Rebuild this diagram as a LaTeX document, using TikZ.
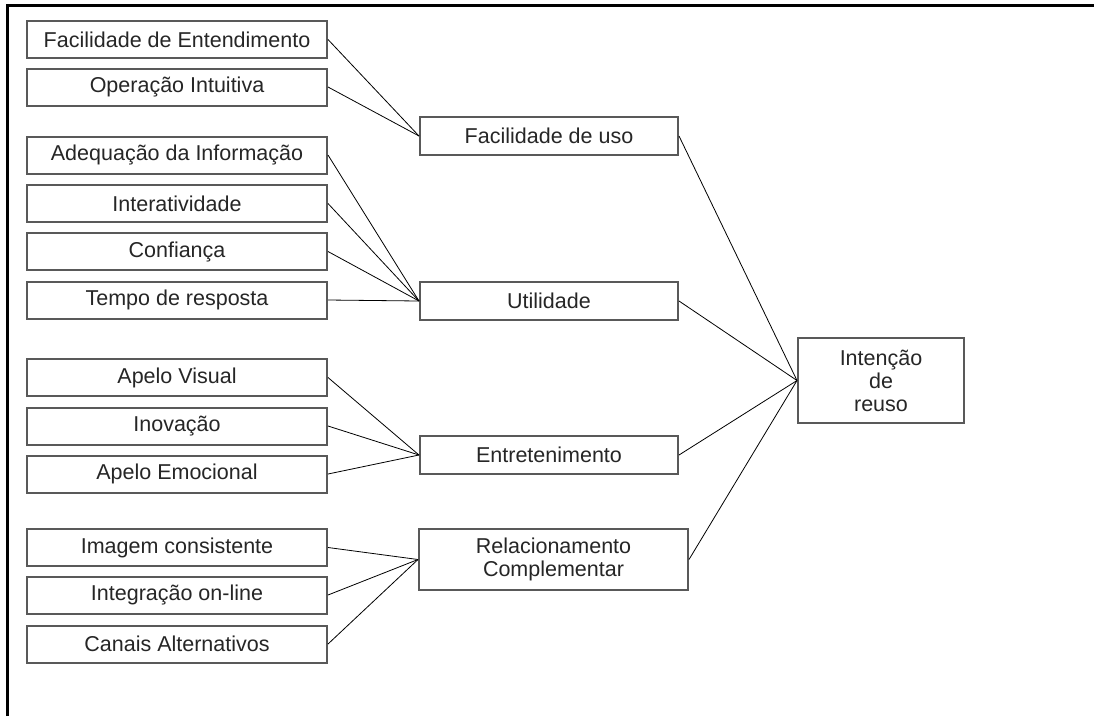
\documentclass[tikz,border=0pt]{standalone}
\usepackage{fontspec}
\setmainfont{Liberation Sans}
\usepackage{xcolor}
\usepackage{tikz}
\usetikzlibrary{positioning,calc}

\begin{document}
\begin{tikzpicture}[
    x=1pt, y=-1pt,
    item/.style={draw=black!65, line width=2pt, fill=white, text=black!85, minimum width=300pt, minimum height=37pt, inner sep=0pt, align=center, font=\fontsize{21.5}{23}\selectfont},
    factor/.style={item, minimum width=258pt, minimum height=38pt},
    goal/.style={item, minimum width=166pt, minimum height=85pt},
    link/.style={draw=black, line width=0.8pt}
]
\useasboundingbox (0,0) rectangle (1094,716);
% moldura
\draw[line width=3pt] (7,716) -- (7,5) -- (1094,5);

% itens da esquerda
\node[item] (fe) at (177,39.5) {Facilidade de Entendimento};
\node[item] (oi) at (177,87) {Operação Intuitiva};
\node[item] (ai) at (177,155) {Adequação da Informação};
\node[item] (it) at (177,203.5) {Interatividade};
\node[item] (cf) at (177,251.5) {Confiança};
\node[item] (tr) at (177,300) {Tempo de resposta};
\node[item] (av) at (177,377.5) {Apelo Visual};
\node[item] (inov) at (177,426) {Inovação};
\node[item] (ae) at (177,474) {Apelo Emocional};
\node[item] (ic) at (177,547.5) {Imagem consistente};
\node[item] (io) at (177,595) {Integração on-line};
\node[item] (ca) at (177,644) {Canais Alternativos};

% fatores
\node[factor] (fu) at (549,136) {Facilidade de uso};
\node[factor] (ut) at (549,301) {Utilidade};
\node[factor] (et) at (549,455) {Entretenimento};
\node[factor, minimum width=269pt, minimum height=61pt] (rc) at (553.5,559.5) {Relacionamento\\Complementar};

% intencao
\node[goal] (ir) at (881,380.5) {Intenção\\de\\reuso};

% ligacoes
\draw[link] (fe.east) -- (fu.west);
\draw[link] (oi.east) -- (fu.west);
\draw[link] (ai.east) -- (ut.west);
\draw[link] (it.east) -- (ut.west);
\draw[link] (cf.east) -- (ut.west);
\draw[link] (tr.east) -- (ut.west);
\draw[link] (av.east) -- (et.west);
\draw[link] (inov.east) -- (et.west);
\draw[link] (ae.east) -- (et.west);
\draw[link] (ic.east) -- (rc.west);
\draw[link] (io.east) -- (rc.west);
\draw[link] (ca.east) -- (rc.west);
\draw[link] (fu.east) -- (ir.west);
\draw[link] (ut.east) -- (ir.west);
\draw[link] (et.east) -- (ir.west);
\draw[link] (rc.east) -- (ir.west);
\end{tikzpicture}
\end{document}
